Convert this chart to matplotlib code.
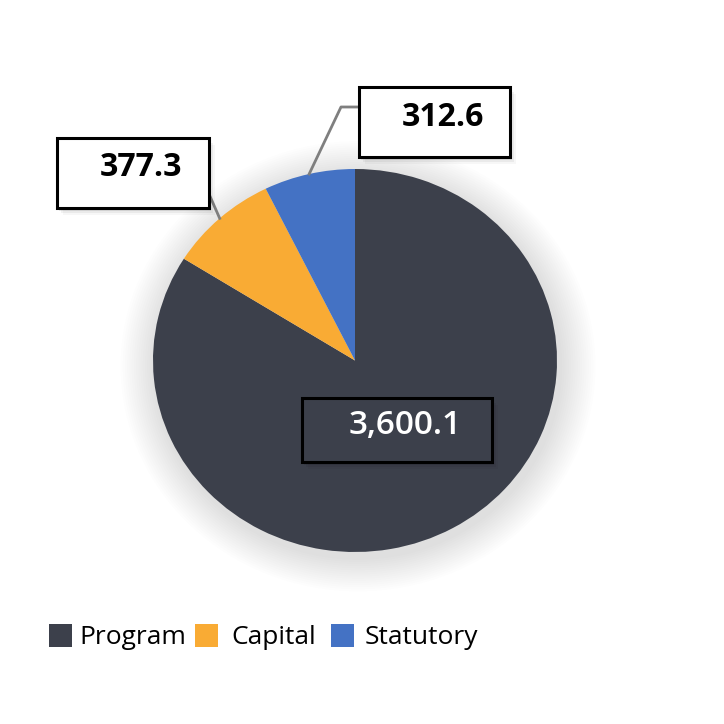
import numpy as np
import matplotlib
matplotlib.use("Agg")
import matplotlib.pyplot as plt
from matplotlib.patches import Rectangle, Ellipse
from matplotlib.lines import Line2D

categories = ["Program", "Capital", "Statutory"]
values = [3600.1, 377.3, 312.6]
labels = ["3,600.1", "377.3", "312.6"]
colors = ["#3c404b", "#f9ab34", "#4472c4"]

W = H = 724
fig = plt.figure(figsize=(7.24, 7.24), dpi=100)
fig.patch.set_facecolor("white")

def fx(x):
    return x / W

def fy(y):
    return 1 - y / H

# pie axes (slightly elliptical as in the reference)
ax = fig.add_axes([fx(153), fy(552), 404 / W, 383 / H])
wedges, _ = ax.pie(values, colors=colors, startangle=90, counterclock=False,
                   radius=1, wedgeprops=dict(linewidth=0))
ax.set_aspect("auto")
ax.set_xlim(-1, 1)
ax.set_ylim(-1, 1)
ax.axis("off")

# soft shadow behind pie
n = 16
for i in range(n):
    s = 0.011 * (n - i)
    e = Ellipse((0.015, -0.03), 2 + 2 * s, 2 + 2 * s, facecolor="black",
                edgecolor="none", alpha=0.0075, zorder=0, clip_on=False)
    ax.add_patch(e)
for w in wedges:
    w.set_zorder(2)

def edge_point(w):
    mid = np.deg2rad((w.theta1 + w.theta2) / 2)
    p = ax.transData.transform((np.cos(mid), np.sin(mid)))
    f = fig.transFigure.inverted().transform(p)
    return f

def box(x0, y0, x1, y1, face):
    # shadow
    for k, a in [(7, 0.03), (5, 0.05), (3, 0.08), (1.5, 0.1)]:
        fig.add_artist(Rectangle((fx(x0 + k * 0.8), fy(y1 + k)), (x1 - x0) / W, (y1 - y0) / H,
                                 transform=fig.transFigure, facecolor="black",
                                 edgecolor="none", alpha=a, zorder=5))
    fig.add_artist(Rectangle((fx(x0), fy(y1)), (x1 - x0) / W, (y1 - y0) / H,
                             transform=fig.transFigure, facecolor=face,
                             edgecolor="black", linewidth=2.2, zorder=6))

line_col = "#7f7f7f"

# Statutory label
p = edge_point(wedges[2])
fig.add_artist(Line2D([p[0], fx(341), fx(359)], [p[1], fy(107), fy(107)],
                      transform=fig.transFigure, color=line_col, linewidth=2, zorder=4))
box(359, 87, 510, 157, "white")
fig.text(fx(443), fy(118), labels[2], ha="center", va="center", fontsize=23,
         fontweight="bold", family="Open Sans", color="black", zorder=7)

# Capital label
p = edge_point(wedges[1])
fig.add_artist(Line2D([p[0], fx(209)], [p[1], fy(194)],
                      transform=fig.transFigure, color=line_col, linewidth=2, zorder=4))
box(57, 138, 209, 208, "white")
fig.text(fx(141), fy(168), labels[1], ha="center", va="center", fontsize=23,
         fontweight="bold", family="Open Sans", color="black", zorder=7)

# Program label
box(302, 398, 492, 462, colors[0])
fig.text(fx(405), fy(425), labels[0], ha="center", va="center", fontsize=24,
         fontweight="semibold", family="Open Sans", color="white", zorder=7)

# legend
sq_x = [49, 195, 331]
tx_x = [79, 231, 365]
for c, lab, sx, tx in zip(colors, categories, sq_x, tx_x):
    fig.add_artist(Rectangle((fx(sx), fy(647)), 23 / W, 23 / H, transform=fig.transFigure,
                             facecolor=c, edgecolor="none"))
    fig.text(fx(tx), fy(638), lab, ha="left", va="center", fontsize=19,
             family="Open Sans", color="black")

fig.savefig("out.png", dpi=100, facecolor="white")
